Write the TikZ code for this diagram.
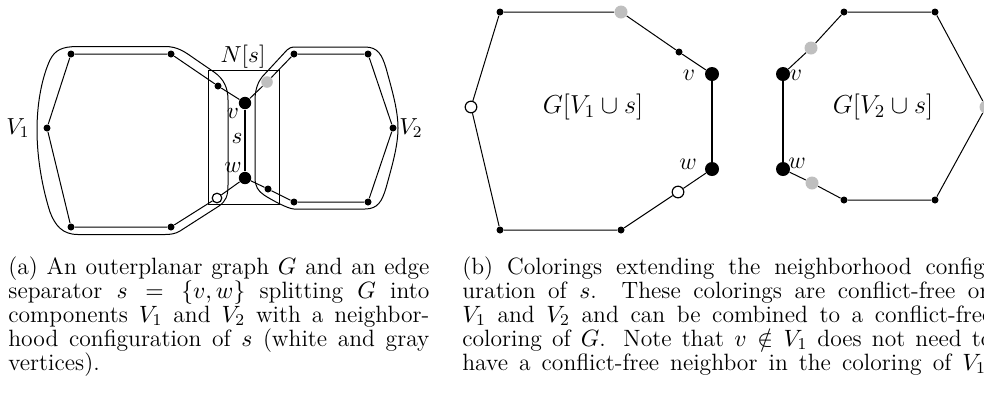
\RequirePackage{fix-cm}
\documentclass[tikz,border=0pt]{standalone}
\begin{document}
\begin{tikzpicture}[x=0.5pt,y=-0.5pt,
  sdot/.style={circle,fill=black,inner sep=0pt,minimum size=3.5pt},
  bdotA/.style={circle,fill=black,inner sep=0pt,minimum size=6.2pt},
  gdotA/.style={circle,fill=black!25,inner sep=0pt,minimum size=5.8pt},
  wdotA/.style={circle,draw=black,line width=0.6pt,fill=white,inner sep=0pt,minimum size=4.8pt},
  bdotB/.style={circle,fill=black,inner sep=0pt,minimum size=7pt},
  gdotB/.style={circle,fill=black!25,inner sep=0pt,minimum size=6.5pt},
  wdotB/.style={circle,draw=black,line width=0.6pt,fill=white,inner sep=0pt,minimum size=5.8pt},
  edge/.style={line width=0.5pt},
  sedge/.style={line width=1pt},
  hull/.style={line width=0.5pt},
  lblA/.style={font=\fontsize{11.6}{13}\selectfont,inner sep=0pt},
  lblB/.style={font=\fontsize{12}{14}\selectfont,inner sep=0pt},
  lblG/.style={font=\fontsize{13}{15}\selectfont,inner sep=0pt},
  capline/.style={anchor=base west,inner sep=0pt,font=\fontsize{11.8}{12}\selectfont}
]
\useasboundingbox (0,0) rectangle (984,398);
\clip (0,0) rectangle (984,398);

% ---------------- panel (a) ----------------
% hulls
\draw[hull] (120,46.5) -- (165,46.5) .. controls (178,46.5) and (185,52) .. (195,59)
  -- (214,72) .. controls (224,79) and (228,88) .. (228,100) -- (228,185)
  .. controls (228,196) and (226,201) .. (219,206) -- (180,231)
  .. controls (175,234) and (170,234.5) .. (165,234.5) -- (78,234.5)
  .. controls (62,234.5) and (55,225) .. (50,212) .. controls (43,190) and (37,160) .. (37,130)
  .. controls (37,100) and (43,75) .. (50,60) .. controls (55,50) and (62,46.5) .. (78,46.5) -- cycle;
\draw[hull] (296,47) -- (365,47) .. controls (378,47) and (382,55) .. (386,68)
  .. controls (392,90) and (398,110) .. (398,128) .. controls (398,146) and (392,166) .. (386,188)
  .. controls (382,201) and (378,209) .. (365,209) -- (294,209)
  .. controls (288,209) and (270,199) .. (264,195) .. controls (258,191) and (255,186) .. (255,178)
  -- (255,100) .. controls (255,90) and (258,82) .. (262,77) -- (287,50)
  .. controls (289,48) and (291,47) .. (296,47) -- cycle;
% N[s] box
\node[draw,line width=0.5pt,inner sep=0pt,minimum width=35.5pt,minimum height=67pt] (box) at (243.5,137) {};
\node[lblA] (Ns) at (243,57) {$N[s]$};

% vertices
\node[sdot] (p1) at (71,54) {};
\node[sdot] (p2) at (171,54) {};
\node[sdot] (p3) at (218,86) {};
\node[bdotA] (va) at (245,103) {};
\node[bdotA] (wa) at (245,178) {};
\node[wdotA] (p4) at (217,198) {};
\node[sdot] (p5) at (171,227) {};
\node[sdot] (p6) at (71,227) {};
\node[sdot] (p7) at (47,128) {};
\node[gdotA] (q1) at (267,82) {};
\node[sdot] (q2) at (294,54) {};
\node[sdot] (q3) at (368,54) {};
\node[sdot] (q4) at (393,128) {};
\node[sdot] (q5) at (368,202) {};
\node[sdot] (q6) at (294,202) {};
\node[sdot] (q7) at (268,189) {};

\draw[edge] (p1) -- (p2) -- (p3) -- (va);
\draw[sedge] (va) -- (wa);
\draw[edge] (wa) -- (p4) -- (p5) -- (p6) -- (p7) -- (p1);
\draw[edge] (va) -- (q1) -- (q2) -- (q3) -- (q4) -- (q5) -- (q6) -- (q7) -- (wa);

\node[lblA] (lv) at (233,113) {$v$};
\node[lblA] (ls) at (237,138) {$s$};
\node[lblA] (lw) at (233,167) {$w$};
\node[lblA] (V1) at (18,128) {$V_1$};
\node[lblA] (V2) at (411,128) {$V_2$};

% ---------------- panel (b) ----------------
\node[sdot] (a1) at (500,12) {};
\node[gdotB] (a2) at (621,12) {};
\node[sdot] (a3) at (679,52) {};
\node[bdotB] (vb) at (712,74) {};
\node[bdotB] (wb) at (712,169) {};
\node[wdotB] (a4) at (678,192) {};
\node[sdot] (a5) at (621,230) {};
\node[sdot] (a6) at (500,230) {};
\node[wdotB] (a7) at (471,107) {};

\draw[edge] (a1) -- (a2) -- (a3) -- (vb);
\draw[sedge] (vb) -- (wb);
\draw[edge] (wb) -- (a4) -- (a5) -- (a6) -- (a7) -- (a1);

\node[bdotB] (vc) at (783,74) {};
\node[bdotB] (wc) at (783,169) {};
\node[gdotB] (b1) at (811,48) {};
\node[sdot] (b2) at (844,12) {};
\node[sdot] (b3) at (935,12) {};
\node[gdotB] (b4) at (986,107) {};
\node[sdot] (b5) at (935,200) {};
\node[sdot] (b6) at (844,200) {};
\node[gdotB] (b7) at (812,183) {};

\draw[edge] (vc) -- (b1) -- (b2) -- (b3) -- (b4) -- (b5) -- (b6) -- (b7) -- (wc);
\draw[line width=0.7pt] (vc) -- (wc);

\node[lblB] (lvb) at (689,75) {$v$};
\node[lblB] (lwb) at (688,164) {$w$};
\node[lblB] (lvc) at (796,75) {$v$};
\node[lblB] (lwc) at (797,163) {$w$};
\node[lblG] (G1) at (593,107) {$G[V_1\cup s]$};
\node[lblG] (G2) at (883,107) {$G[V_2\cup s]$};

% ---------------- captions ----------------
\node[capline] (ca1) at (8,274) {\makebox[210.5pt][s]{(a) An outerplanar graph $G$ and an edge}};
\node[capline] (ca2) at (8,298) {\makebox[210.5pt][s]{separator $s=\{v,w\}$ splitting $G$ into}};
\node[capline] (ca3) at (8,322) {\makebox[210.5pt][s]{components $V_1$ and $V_2$ with a neighbor-}};
\node[capline] (ca4) at (8,346) {\makebox[210.5pt][s]{hood configuration of $s$ (white and gray}};
\node[capline] (ca5) at (8,370) {vertices).};

\node[capline] (cb1) at (462,274) {\makebox[265pt][s]{(b) Colorings extending the neighborhood config-}};
\node[capline] (cb2) at (462,298) {\makebox[265pt][s]{uration of $s$. These colorings are conflict-free on}};
\node[capline] (cb3) at (462,322) {\makebox[265pt][s]{$V_1$ and $V_2$ and can be combined to a conflict-free}};
\node[capline] (cb4) at (462,346) {\makebox[265pt][s]{coloring of $G$. Note that $v\notin V_1$ does not need to}};
\node[capline] (cb5) at (462,370) {\makebox[265pt][s]{have a conflict-free neighbor in the coloring of $V_1$.}};
\end{tikzpicture}
\end{document}
